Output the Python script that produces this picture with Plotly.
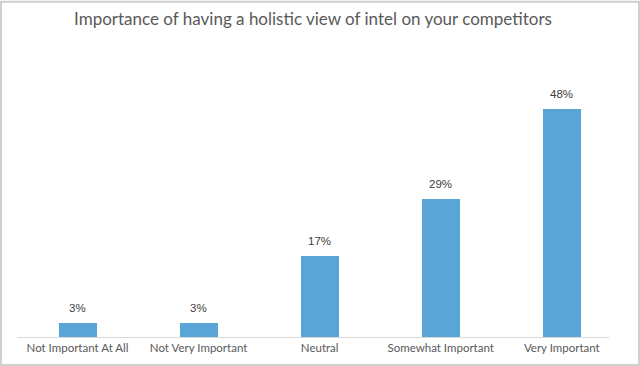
import plotly.graph_objects as go

categories = ["Not Important At All", "Not Very Important", "Neutral", "Somewhat Important", "Very Important"]
values = [3, 3, 17, 29, 48]
labels = [f"{v}%" for v in values]

W, H = 640, 366
L, R = 17, 609
B, T = 337, 98.5
pw, ph = R - L, B - T

fig = go.Figure(go.Bar(
    x=categories, y=values,
    marker=dict(color="#5AA5D8", line=dict(width=0)),
    width=0.314,
    cliponaxis=False,
))

annotations = [
    dict(x=c, y=v, text=t, xref="x", yref="y", showarrow=False,
         yanchor="bottom", yshift=7,
         font=dict(family="Liberation Sans, Arial", size=11.5, color="#404040"))
    for c, v, t in zip(categories, values, labels)
]

fig.update_layout(
    width=W, height=H,
    margin=dict(l=L, r=W - R, t=T, b=H - B, autoexpand=False),
    paper_bgcolor="white", plot_bgcolor="white",
    title=dict(text="Importance of having a holistic view of intel on your competitors",
               x=0.5, xref="paper", xanchor="center", y=1 - 19 / H, yanchor="middle",
               font=dict(family="Lato, Open Sans", size=17, color="#595959")),
    showlegend=False,
    bargap=0,
    annotations=annotations,
    xaxis=dict(range=[-0.5, 4.39], showgrid=False, showline=True, linecolor="#d9d9d9", linewidth=1,
               automargin=False,
               ticks="", tickfont=dict(family="Lato, Open Sans", size=11.5, color="#595959")),
    yaxis=dict(range=[0, 50], visible=False, showgrid=False, zeroline=False, automargin=False),
    shapes=[dict(type="rect", xref="paper", yref="paper",
                 x0=(1 - L) / pw, x1=(639 - L) / pw,
                 y0=(B - 365) / ph, y1=(B - 1) / ph,
                 line=dict(color="#d0d0d0", width=2))],
)

fig.write_html("out.html", config={"displayModeBar": False},
               post_script="document.body.style.margin='0';document.body.style.overflow='hidden';")
